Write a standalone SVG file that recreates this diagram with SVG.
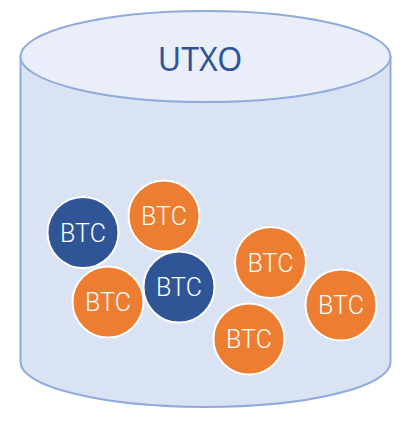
<svg xmlns="http://www.w3.org/2000/svg" width="414" height="422" viewBox="0 0 414 422">
<style>
.cyl{fill:#DAE3F3;stroke:#8FAADC;stroke-width:2}
.top{fill:#E9EEF8;stroke:#8FAADC;stroke-width:2}
.coin{stroke:#FFFFFF;stroke-width:2}
.blue{fill:#2F5597}
.orange{fill:#ED7D31}
.lbl{font-family:Roboto,"Liberation Sans",sans-serif;font-size:25px;font-weight:300;fill:#FFFFFF;text-anchor:middle}
.title{font-family:"Noto Sans","Liberation Sans",sans-serif;font-size:32px;fill:#2F5597;text-anchor:middle}
</style>
<g id="utxo">
<path class="cyl" d="M20.5 56.5 L20.5 362 A185 45 0 0 0 390.5 362 L390.5 56.5 Z"/>
<ellipse class="top" cx="205.5" cy="56.5" rx="185" ry="45.5"/>
<text class="title" x="200" y="70.5">UTXO</text>
</g>
<g id="btc1"><circle class="coin blue" cx="83" cy="232.5" r="35.5"/><text class="lbl" x="83" y="241.5">BTC</text></g>
<g id="btc2"><circle class="coin orange" cx="164" cy="216" r="35.5"/><text class="lbl" x="164" y="225">BTC</text></g>
<g id="btc3"><circle class="coin orange" cx="108" cy="302" r="35.5"/><text class="lbl" x="108" y="311">BTC</text></g>
<g id="btc4"><circle class="coin blue" cx="179" cy="287" r="35.5"/><text class="lbl" x="179" y="296">BTC</text></g>
<g id="btc5"><circle class="coin orange" cx="270.5" cy="262.5" r="35.5"/><text class="lbl" x="270.5" y="271.5">BTC</text></g>
<g id="btc6"><circle class="coin orange" cx="341" cy="305" r="35.5"/><text class="lbl" x="341" y="314">BTC</text></g>
<g id="btc7"><circle class="coin orange" cx="249" cy="339" r="35.5"/><text class="lbl" x="249" y="348">BTC</text></g>
<g id="connectors"/>
</svg>
